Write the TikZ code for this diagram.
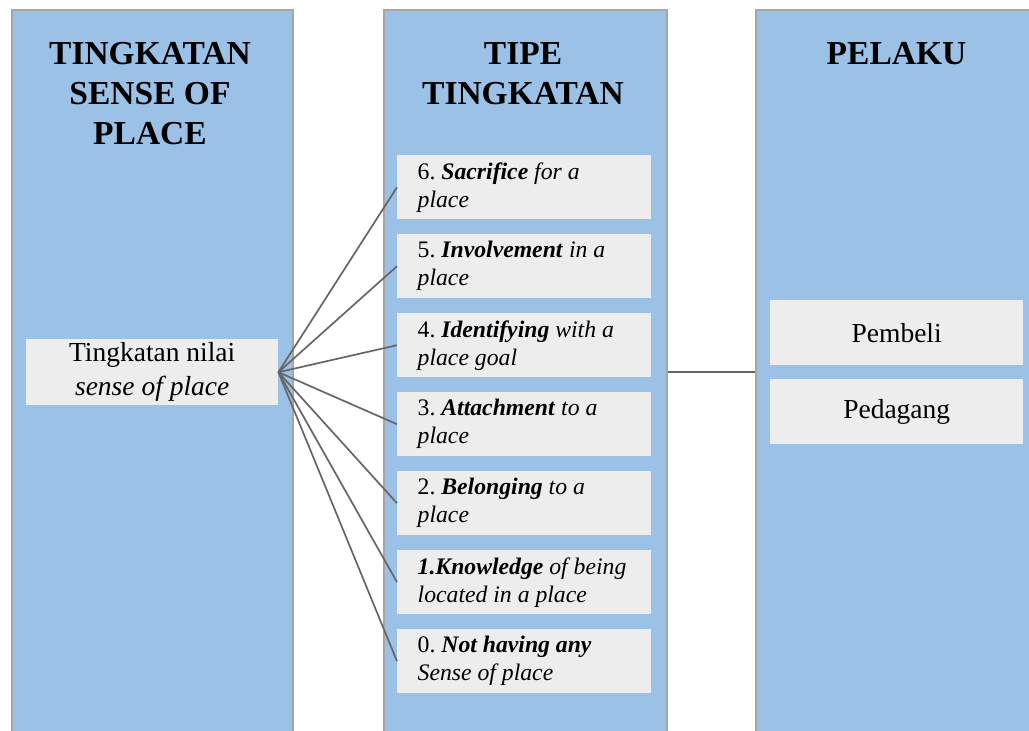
\documentclass[tikz,border=0pt]{standalone}
\usepackage{fontspec}
\setmainfont{Liberation Serif}
\definecolor{panelblue}{HTML}{9BC2E6}
\definecolor{boxgray}{HTML}{EDEDED}
\definecolor{panelborder}{HTML}{A6A6A6}
\definecolor{connector}{HTML}{666666}
\newcommand{\tsp}{\spaceskip=0.25em\relax\xspaceskip=0.25em\relax}
\begin{document}
\begin{tikzpicture}[x=1pt,y=-1pt,
  panel/.style={draw=panelborder, line width=1.5pt, fill=panelblue, minimum height=760pt, inner sep=0pt, anchor=north west},
  titletext/.style={font=\fontsize{33.5}{40}\selectfont\bfseries, align=center, inner sep=0pt, anchor=north},
  tbox/.style={fill=boxgray, minimum width=254pt, minimum height=64pt, text width=213pt, inner xsep=20.5pt, inner ysep=0pt, align=left, anchor=north west, font=\fontsize{23.7}{28}\selectfont},
  sbox/.style={fill=boxgray, minimum height=65pt, inner sep=0pt, align=center, anchor=north west, font=\fontsize{27.5}{34}\selectfont},
  conn/.style={draw=connector, line width=1.7pt}
]
\useasboundingbox (0,0) rectangle (1029,731);
\clip (0,0) rectangle (1029,731);
\fill[white] (0,0) rectangle (1029,731);

% panels
\node[panel, minimum width=281pt] (pleft) at (11,9) {};
\node[panel, minimum width=283pt] (pmid) at (383,9) {};
\node[panel, minimum width=283pt] (pright) at (755,9) {};

% titles
\node[titletext] (tleft) at (150,42) {TINGKATAN\\SENSE OF\\PLACE};
\node[titletext] (tmid) at (523,42) {TIPE\\TINGKATAN};
\node[titletext] (tright) at (896.5,42) {PELAKU};

% source node
\node[sbox, minimum width=252pt, minimum height=66pt] (src) at (26,339) {\tsp Tingkatan nilai\\\textit{sense of place}};

% type boxes
\node[tbox] (b6) at (397,155) {\tsp 6. \textbf{\textit{Sacrifice}} \textit{for a}\\\textit{place}};
\node[tbox] (b5) at (397,234) {\tsp 5. \textbf{\textit{Involvement}} \textit{in a}\\\textit{place}};
\node[tbox] (b4) at (397,313) {\tsp 4. \textbf{\textit{Identifying}} \textit{with a}\\\textit{place goal}};
\node[tbox] (b3) at (397,392) {\tsp 3. \textbf{\textit{Attachment}} \textit{to a}\\\textit{place}};
\node[tbox] (b2) at (397,471) {\tsp 2. \textbf{\textit{Belonging}} \textit{to a}\\\textit{place}};
\node[tbox] (b1) at (397,550) {\tsp\textbf{\textit{1.Knowledge}} \textit{of being}\\\textit{located in a place}};
\node[tbox] (b0) at (397,629) {\tsp 0. \textbf{\textit{Not having any}}\\\textit{Sense of place}};

% actor boxes
\node[sbox, minimum width=253pt] (pembeli) at (770,300) {Pembeli};
\node[sbox, minimum width=253pt] (pedagang) at (770,379) {Pedagang};

% connectors
\foreach \b in {b6,b5,b4,b3,b2,b1,b0}{
  \draw[conn] (src.east) -- (\b.west);
}
\draw[conn] (pmid.east |- src.east) -- (pright.west |- src.east);
\end{tikzpicture}
\end{document}
